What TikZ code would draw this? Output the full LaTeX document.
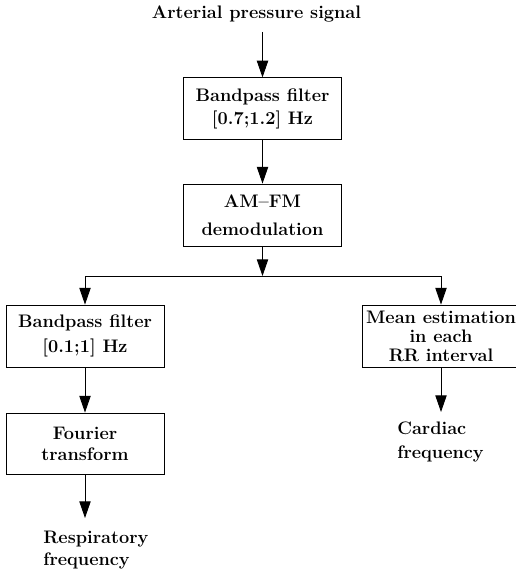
\documentclass[tikz,border=0pt]{standalone}
\usetikzlibrary{arrows.meta}
\begin{document}
\begin{tikzpicture}[x=0.75pt,y=-0.75pt,
  every node/.style={font=\fontsize{13.6}{15.6}\selectfont\bfseries, inner sep=0pt},
  blk/.style={draw, line width=0.65pt, align=center, minimum width=119pt, minimum height=46pt},
  lbl/.style={align=left, anchor=west},
  arr/.style={line width=0.65pt, -{Triangle[length=12.5pt,width=8.5pt]}},
  ln/.style={line width=0.65pt}]
\clip (0,0) rectangle (516,574);
\node[anchor=base] (title) at (256.5,19) {Arterial pressure signal};
\coordinate (start) at (262.5,32);
\node[blk] (b1) at (262.5,108.5) {Bandpass filter\\[1.6pt]{[0.7;1.2] Hz}};
\node[blk, minimum height=46.5pt] (b2) at (262.5,215) {AM--FM\\[5.4pt]demodulation};
\coordinate (split) at (262.5,276);
\node[blk, minimum width=118.5pt, minimum height=46.5pt] (b3) at (85,336) {Bandpass filter\\[3pt]{[0.1;1] Hz}};
\node[blk, minimum width=118.5pt, minimum height=46.5pt] (b4) at (441,336) {Mean estimation\\[-1.4pt]in each\\[-1.4pt]RR interval};
\node[blk, minimum width=118.5pt, minimum height=45.75pt] (b5) at (85,443.5) {Fourier\\transform};
\coordinate (rtip) at (85,518);
\coordinate (ctip) at (441,412);
\node[lbl] (resp) at (43,550) {Respiratory\\[1pt]frequency};
\node[lbl] (card) at (397,442) {Cardiac\\[3pt]frequency};
\draw[arr] (start) -- (b1.north);
\draw[arr] (b1.south) -- (b2.north);
\draw[arr] (b2.south) -- (split);
\draw[arr] (split) -| (b3.north);
\draw[arr] (split) -| (b4.north);
\draw[arr] (b3.south) -- (b5.north);
\draw[arr] (b5.south) -- (rtip);
\draw[arr] (b4.south) -- (ctip);
\end{tikzpicture}
\end{document}
